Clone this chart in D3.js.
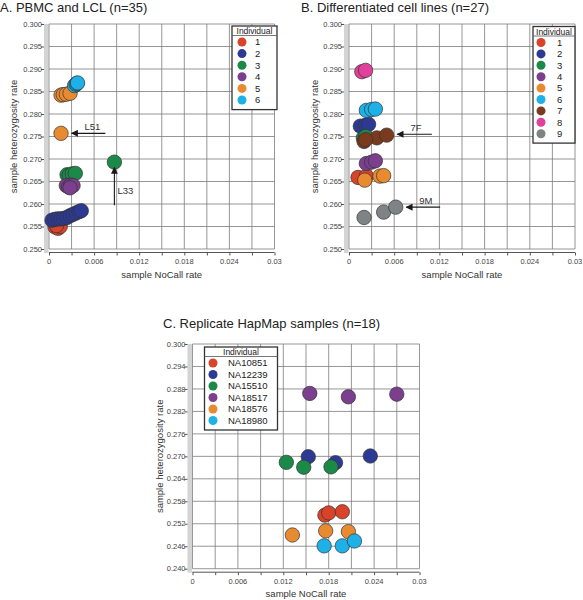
<!DOCTYPE html>
<html><head><meta charset="utf-8">
<script src="https://cdn.jsdelivr.net/npm/d3@7"></script>
<style>
body{margin:0;background:#fff}
text{font-family:"Liberation Sans",Arial,sans-serif}
</style>
</head><body>
<svg id="chart" width="583" height="600"></svg>
<script>
// ---------------- DATA ----------------
const individualsA = ["1","2","3","4","5","6"];
const individualsB = ["1","2","3","4","5","6","7","8","9"];
const individualsC = ["NA10851","NA12239","NA15510","NA18517","NA18576","NA18980"];
const colorsAB = ["#d8432a","#2c3a93","#1b8a48","#7b3f8e","#e88a30","#1db1e7","#7a3a1d","#e2419b","#7e8386"];
const colorsC  = ["#d8432a","#2c3a93","#1b8a48","#7b3f8e","#e88a30","#1db1e7"];

const xTickValues = [0, 0.006, 0.012, 0.018, 0.024, 0.03];
const xTickLabels = ["0","0.006","0.012","0.018","0.024","0.03"];
const yTicksAB = [0.300,0.295,0.290,0.285,0.280,0.275,0.270,0.265,0.260,0.255,0.250];
const yTicksC  = [0.300,0.294,0.288,0.282,0.276,0.270,0.264,0.258,0.252,0.246,0.240];

// Panel A: PBMC and LCL (n=35)
const groupA  = [0,0,0,0, 1,1,1,1,1,1,1,1,1,1,1, 2,2,2,2,2, 3,3,3,3,3, 4,4,4,4,4, 5,5,5,5];
const noCallA = [0.0008,0.0012,0.0015,0.0010, 0.0004,0.0008,0.0012,0.0016,0.0020,0.0024,0.0028,0.0032,0.0036,0.0040,0.0043,
                 0.0024,0.0027,0.0031,0.0035,0.0087, 0.0023,0.0026,0.0029,0.0032,0.0028,
                 0.0016,0.0019,0.0023,0.0028,0.0016, 0.0034,0.0036,0.0037,0.0038];
const hetA    = [0.2549,0.2546,0.2550,0.2552, 0.2564,0.2566,0.2567,0.2567,0.2568,0.2570,0.2574,0.2577,0.2580,0.2583,0.2585,
                 0.2665,0.2664,0.2667,0.2668,0.2693, 0.2641,0.2638,0.2642,0.2641,0.2636,
                 0.2842,0.2843,0.2844,0.2846,0.2757, 0.2863,0.2866,0.2868,0.2869];

// Panel B: Differentiated cell lines (n=27)
const groupB  = [0,0, 1,1,1, 2,2, 3,3,3, 4,4,4, 5,5,5, 6,6,6,6, 7,7, 8,8,8];
const noCallB = [0.0012,0.0023, 0.0015,0.0022,0.0026, 0.0019,0.0022, 0.0023,0.0030,0.0035, 0.0021,0.0041,0.0046,
                 0.0023,0.0030,0.0035, 0.0020,0.0037,0.0050,0.0022, 0.0017,0.0022, 0.0020,0.0046,0.0062];
const hetB    = [0.2659,0.2662, 0.2773,0.2775,0.2777, 0.2747,0.2750, 0.2690,0.2693,0.2696, 0.2653,0.2662,0.2663,
                 0.2808,0.2810,0.2811, 0.2739,0.2747,0.2753,0.2743, 0.2894,0.2897, 0.2570,0.2582,0.2593];

// Panel C: Replicate HapMap samples (n=18)
const groupC  = [0,0,0, 1,1,1, 2,2,2, 3,3,3, 4,4,4, 5,5,5];
const noCallC = [0.0175,0.0180,0.0198, 0.0153,0.0189,0.0235, 0.0124,0.0147,0.0183, 0.0155,0.0206,0.0270,
                 0.0132,0.0176,0.0206, 0.0174,0.0198,0.0214];
const hetC    = [0.2543,0.2549,0.2552, 0.2699,0.2683,0.2701, 0.2684,0.2671,0.2672, 0.2868,0.2859,0.2866,
                 0.2490,0.2501,0.2499, 0.2461,0.2461,0.2474];

// Annotations: label, arrow tail (x,y) -> head (x,y) in data units
const arrowsA = [
  {label:"L51", x1:0.0075, y1:0.2757, x2:0.0030, y2:0.2757},
  {label:"L33", x1:0.0087, y1:0.2597, x2:0.0087, y2:0.2681}
];
const arrowsB = [
  {label:"7F", x1:0.0110, y1:0.2755, x2:0.0064, y2:0.2755},
  {label:"9M", x1:0.0121, y1:0.2593, x2:0.0076, y2:0.2593}
];

// ---------------- DRAW ----------------
const svg = d3.select("#chart");
svg.append("defs").append("marker")
  .attr("id","ah").attr("viewBox","0 0 10 10").attr("refX",9).attr("refY",5)
  .attr("markerWidth",9).attr("markerHeight",7).attr("markerUnits","userSpaceOnUse")
  .attr("orient","auto")
  .append("path").attr("d","M0,0L10,5L0,10Z").attr("fill","#1a1a1a");

function panel(cfg){
  const g = svg.append("g");
  const x = d3.scaleLinear().domain([0,0.03]).range([cfg.x0,cfg.x1]);
  const y = d3.scaleLinear().domain([cfg.yTicks[cfg.yTicks.length-1], cfg.yTicks[0]]).range([cfg.yBot,cfg.yTop]);

  // title
  g.append("text").attr("x",cfg.titleX).attr("y",cfg.titleY)
    .attr("font-size",13).attr("fill","#222").text(cfg.title);

  // left gray band
  g.append("rect").attr("x",cfg.x0-5).attr("y",cfg.yTop).attr("width",4.5)
    .attr("height",cfg.yBot-cfg.yTop+4).attr("fill","#d4d4d4");

  // gridlines
  const xg = d3.range(0, 0.0301, 0.003);
  g.selectAll(".vg").data(xg).join("line")
    .attr("x1",d=>x(d)).attr("x2",d=>x(d)).attr("y1",cfg.yTop).attr("y2",cfg.yBot)
    .attr("stroke","#7c7c7c").attr("stroke-width",0.8);
  g.selectAll(".hg").data(cfg.yTicks).join("line")
    .attr("x1",cfg.x0).attr("x2",cfg.x1).attr("y1",d=>y(d)).attr("y2",d=>y(d))
    .attr("stroke","#7c7c7c").attr("stroke-width",0.8);

  // bottom axis
  const xa = d3.axisBottom(x).tickValues(xg).tickSize(3).tickFormat("");
  const axg = g.append("g").attr("transform",`translate(0,${cfg.yBot+3.5})`).call(xa);
  axg.select(".domain").attr("stroke","#555").attr("d",`M${cfg.x0},0H${cfg.x1}`);
  axg.selectAll(".tick line").attr("stroke","#555");
  g.selectAll(".xl").data(xTickValues).join("text")
    .attr("x",d=>x(d)).attr("y",cfg.yBot+15).attr("text-anchor","middle")
    .attr("font-size",7.5).attr("fill","#444")
    .text((d,i)=>xTickLabels[i]);

  // left axis ticks & labels
  const ya = d3.axisLeft(y).tickValues(cfg.yTicks).tickSize(3).tickFormat("");
  const ayg = g.append("g").attr("transform",`translate(${cfg.x0-5},0)`).call(ya);
  ayg.select(".domain").remove();
  ayg.selectAll(".tick line").attr("stroke","#555");
  g.selectAll(".yl").data(cfg.yTicks).join("text")
    .attr("x",cfg.x0-7).attr("y",d=>y(d)).attr("dy","0.35em").attr("text-anchor","end")
    .attr("font-size",7.5).attr("fill","#444")
    .text(d3.format(".3f"));

  // axis titles
  g.append("text").attr("x",(cfg.x0+cfg.x1)/2).attr("y",cfg.xLabelY).attr("text-anchor","middle")
    .attr("font-size",9.5).attr("fill","#333").text("sample NoCall rate");
  g.append("text").attr("transform",`translate(${cfg.yLabelX},${(cfg.yTop+cfg.yBot)/2}) rotate(-90)`)
    .attr("text-anchor","middle").attr("dy","0.35em")
    .attr("font-size",9.5).attr("fill","#333").text("sample heterozygosity rate");

  // points
  const pts = cfg.group.map((gi,i)=>({g:gi, x:cfg.noCall[i], y:cfg.het[i]}));
  g.selectAll(".pt").data(pts).join("circle")
    .attr("cx",d=>x(d.x)).attr("cy",d=>y(d.y)).attr("r",7.2)
    .attr("fill",d=>cfg.colors[d.g]).attr("stroke","#333").attr("stroke-width",0.7);

  // arrows
  (cfg.arrows||[]).forEach(a=>{
    g.append("line").attr("x1",x(a.x1)).attr("y1",y(a.y1)).attr("x2",x(a.x2)).attr("y2",y(a.y2))
      .attr("stroke","#1a1a1a").attr("stroke-width",1.1).attr("marker-end","url(#ah)");
    const vertical = a.x1===a.x2;
    g.append("text")
      .attr("x", vertical ? x(a.x1)+3 : (x(a.x1)+x(a.x2))/2 - 4)
      .attr("y", vertical ? (y(a.y1)+y(a.y2))/2 + 8 : y(a.y1)-3)
      .attr("font-size",9.5).attr("fill","#333").text(a.label);
  });

  // legend
  const L = cfg.legend;
  const lg = g.append("g");
  const h = 11 + cfg.names.length*L.step + 3;
  lg.append("rect").attr("x",L.x).attr("y",L.y).attr("width",L.w).attr("height",h)
    .attr("fill","#fff").attr("stroke","#333").attr("stroke-width",1.3);
  lg.append("line").attr("x1",L.x).attr("x2",L.x+L.w).attr("y1",L.y+9.5).attr("y2",L.y+9.5)
    .attr("stroke","#555").attr("stroke-width",0.8);
  lg.append("text").attr("x",L.x+L.w/2).attr("y",L.y+8).attr("text-anchor","middle")
    .attr("font-size",8.5).attr("fill","#222").text("Individual");
  cfg.names.forEach((n,i)=>{
    const cy = L.y + 16 + i*L.step;
    lg.append("circle").attr("cx",L.cx).attr("cy",cy).attr("r",4.5).attr("fill",cfg.colors[i]);
    lg.append("text").attr("x",L.tx).attr("y",cy).attr("dy","0.35em")
      .attr("font-size",9.5).attr("fill","#222").text(n);
  });
}

panel({title:"A. PBMC and LCL (n=35)", titleX:0, titleY:12,
  x0:49, x1:274.5, yTop:24, yBot:249, yTicks:yTicksAB, xLabelY:278, yLabelX:14,
  group:groupA, noCall:noCallA, het:hetA, colors:colorsAB, names:individualsA, arrows:arrowsA,
  legend:{x:232, y:26, w:45, step:11.6, cx:242, tx:255}});

panel({title:"B. Differentiated cell lines (n=27)", titleX:301, titleY:12,
  x0:349, x1:575, yTop:24, yBot:249, yTicks:yTicksAB, xLabelY:278, yLabelX:315,
  group:groupB, noCall:noCallB, het:hetB, colors:colorsAB, names:individualsB, arrows:arrowsB,
  legend:{x:533, y:26.5, w:42, step:11.4, cx:541, tx:557}});

panel({title:"C. Replicate HapMap samples (n=18)", titleX:163, titleY:328,
  x0:192.5, x1:419.5, yTop:344, yBot:568.7, yTicks:yTicksC, xLabelY:597, yLabelX:160,
  group:groupC, noCall:noCallC, het:hetC, colors:colorsC, names:individualsC,
  legend:{x:204.5, y:347, w:73, step:11.5, cx:213, tx:228}});
</script>
</body></html>
